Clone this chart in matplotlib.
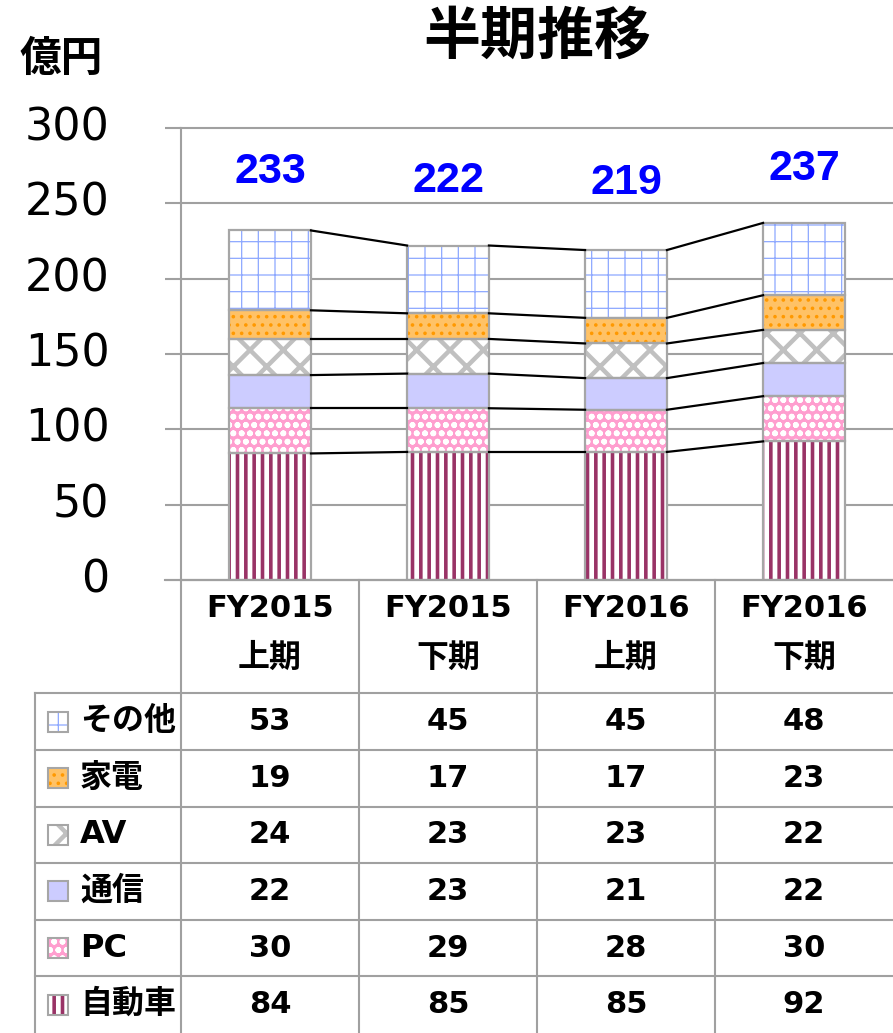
import matplotlib.pyplot as plt
from matplotlib.patches import Rectangle

plt.rcParams['font.family'] = ['DejaVu Sans', 'Noto Sans CJK JP']

# データ（億円）
periods = ['FY2015\n上期', 'FY2015\n下期', 'FY2016\n上期', 'FY2016\n下期']
segments = ['自動車', 'PC', '通信', 'AV', '家電', 'その他']  # 下から積み上げ
automotive = [84, 85, 85, 92]
pc = [30, 29, 28, 30]
telecom = [22, 23, 21, 22]
av = [24, 23, 23, 22]
appliances = [19, 17, 17, 23]
others = [53, 45, 45, 48]
totals = [233, 222, 219, 237]
yticks = [0, 50, 100, 150, 200, 250, 300]

values = [automotive, pc, telecom, av, appliances, others]

# 塗りつぶし: (背景色, ハッチ, ハッチ色, ハッチ線幅)
styles = {
    '自動車': ('white', '||', '#993366', 2.6),
    'PC': ('#FF9ECF', 'oo', 'white', 1.8),
    '通信': ('#CCCCFF', '', '#CCCCFF', 1.0),
    'AV': ('white', 'x', '#C0C0C0', 3.2),
    '家電': ('#FFC266', '..', '#FF9900', 1.4),
    'その他': ('white', '+', '#8DA8FF', 0.9),
}
edge_grey = '#A6A6A6'
grid_grey = '#A0A0A0'

W, H = 893, 1033
fig = plt.figure(figsize=(W / 100, H / 100), dpi=100)

# --- グラフ部分 ---
ax = fig.add_axes([181 / W, 1 - 580 / H, 712 / W, 452 / H])
x = list(range(len(periods)))
bw = 0.46

bottom = [0] * len(x)
tops = []
for name, vals in zip(segments, values):
    face, hatch, hcol, hlw = styles[name]
    with plt.rc_context({'hatch.linewidth': hlw}):
        ax.bar(x, vals, bw, bottom=bottom, color=face, edgecolor=hcol,
               hatch=hatch, linewidth=0, zorder=2)
    ax.bar(x, vals, bw, bottom=bottom, fill=False, edgecolor=edge_grey,
           linewidth=1.6, zorder=3)
    bottom = [b + v for b, v in zip(bottom, vals)]
    tops.append(bottom)

# 系列線
for level in tops:
    for i in range(len(x) - 1):
        ax.plot([x[i] + bw / 2, x[i + 1] - bw / 2], [level[i], level[i + 1]],
                color='black', linewidth=1.6, zorder=3)

# 合計ラベル（高い棒ほど少し上に置く）
for i, t in enumerate(totals):
    ax.text(x[i], 154 + t / 2, str(t), color='#0000FF', fontsize=31,
            fontweight='bold', family=['Liberation Sans', 'DejaVu Sans'],
            ha='center', va='center')

ax.set_xlim(-0.5, 3.5)
ax.set_ylim(0, 300)
ax.set_yticks(yticks)
ax.set_xticks([])
ax.tick_params(axis='y', length=11.5, width=1.5, color=grid_grey,
               pad=40, labelsize=32)
for lb in ax.get_yticklabels():
    lb.set_va('center')
ax.grid(axis='y', color=grid_grey, linewidth=1.5, zorder=0)
for gl in ax.get_ygridlines():
    gl.set_clip_on(False)
ax.set_axisbelow(True)
for s in ['top', 'right']:
    ax.spines[s].set_visible(False)
for s in ['left', 'bottom']:
    ax.spines[s].set_color(grid_grey)
    ax.spines[s].set_linewidth(1.5)

fig.text(537 / W, 1 - 38 / H, '半期推移', fontsize=41, fontweight='bold',
         ha='center', va='center')
fig.text(19 / W, 1 - 59 / H, '億円', fontsize=30, fontweight='bold',
         ha='left', va='center')

# --- データテーブル ---
col = 712 / 4  # 1列の幅(px)
row = 453 / 8
xmin = -0.5 - (181 - 35) / col
tax = fig.add_axes([35 / W, 0, (W - 35) / W, 453 / H])
tax.set_xlim(xmin, 3.5)
tax.set_ylim(8, 0)
tax.axis('off')

lc = dict(color=grid_grey, linewidth=1.5, clip_on=False)
tax.plot([-0.5 - 16 / col, 3.5], [0, 0], **lc)
for xv in [-0.5, 0.5, 1.5, 2.5]:
    tax.plot([xv, xv], [0, 8], **lc)
tax.plot([xmin, xmin], [2, 8], **lc)
for yv in range(2, 8):
    tax.plot([xmin, 3.5], [yv, yv], **lc)

for i, p in enumerate(periods):
    l1, l2 = p.split('\n')
    tax.text(i, 0.5, l1, fontsize=22, fontweight='bold', ha='center', va='center')
    tax.text(i, 1.38, l2, fontsize=23, fontweight='bold', ha='center', va='center')

for r, (name, vals) in enumerate(zip(segments[::-1], values[::-1])):
    yc = 2.5 + r
    face, hatch, hcol, hlw = styles[name]
    with plt.rc_context({'hatch.linewidth': hlw}):
        tax.add_patch(Rectangle((xmin + 13 / col, yc - 10 / row), 20 / col, 20 / row,
                                facecolor=face, edgecolor=hcol, hatch=hatch,
                                linewidth=0))
    tax.add_patch(Rectangle((xmin + 13 / col, yc - 10 / row), 20 / col, 20 / row,
                            fill=False, edgecolor=edge_grey, linewidth=1.5))
    tax.text(xmin + 45 / col, yc, name, fontsize=23, fontweight='bold',
             ha='left', va='center')
    for i, v in enumerate(vals):
        tax.text(i, yc, str(v), fontsize=22, fontweight='bold',
                 ha='center', va='center')

fig.savefig('out.png', dpi=100)
